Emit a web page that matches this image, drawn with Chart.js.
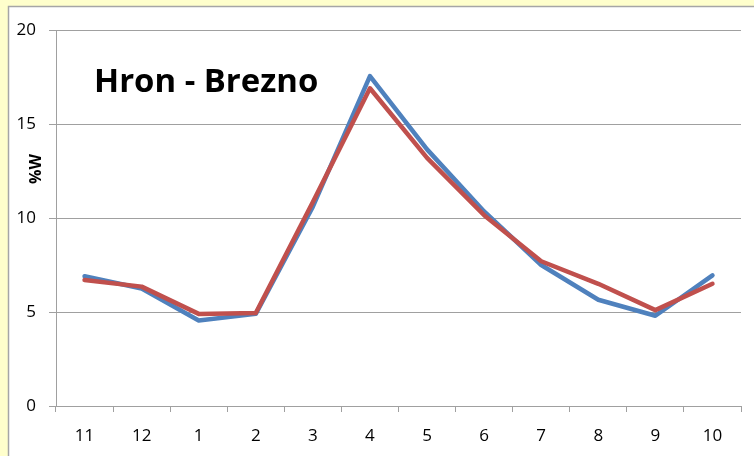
<!DOCTYPE html>
<html>
<head>
<meta charset="utf-8">
<script src="https://cdn.jsdelivr.net/npm/chart.js@4.4.1/dist/chart.umd.min.js"></script>
<style>
  html, body { margin: 0; padding: 0; background: #ffffcc; }
  canvas { display: block; }
</style>
</head>
<body>
<canvas id="chart" width="754" height="456"></canvas>
<script>
const months = ["11", "12", "1", "2", "3", "4", "5", "6", "7", "8", "9", "10"];
const seriesBlue = [6.9, 6.25, 4.55, 4.9, 10.6, 17.55, 13.65, 10.35, 7.5, 5.65, 4.8, 6.95];
const seriesRed = [6.7, 6.35, 4.9, 4.95, 10.85, 16.9, 13.2, 10.15, 7.7, 6.5, 5.1, 6.5];
const yTicks = [0, 5, 10, 15, 20];
const chartTitle = "Hron - Brezno";
const yTitle = "%W";

const gridGrey = "#a0a0a0";
const tickFont = { family: "Open Sans", size: 17 };

// yellow page + white chart box with grey left/top edge
const backdrop = {
    id: "backdrop",
    beforeDraw: (chart) => {
        const ctx = chart.ctx;
        ctx.save();
        ctx.fillStyle = "#ffffcc";
        ctx.fillRect(0, 0, chart.width, chart.height);
        ctx.fillStyle = "#ffffff";
        ctx.fillRect(9, 7, chart.width - 9, chart.height - 7);
        ctx.strokeStyle = "#a6a6a6";
        ctx.lineWidth = 1.5;
        ctx.beginPath();
        ctx.moveTo(8.5, chart.height);
        ctx.lineTo(8.5, 6.5);
        ctx.lineTo(chart.width, 6.5);
        ctx.stroke();
        ctx.restore();
    }
};

// chart title inside the plot and the rotated y-axis title
const labels = {
    id: "labels",
    afterDraw: (chart) => {
        const ctx = chart.ctx;
        ctx.save();
        ctx.fillStyle = "#000000";
        ctx.textAlign = "left";
        ctx.textBaseline = "alphabetic";
        let size = 30;
        ctx.font = "bold " + size + "px 'Open Sans'";
        size = size * 224 / ctx.measureText(chartTitle).width; // fit the width seen in the picture
        ctx.font = "bold " + size.toFixed(1) + "px 'Open Sans'";
        ctx.fillText(chartTitle, 94, 92);

        ctx.translate(36, 169);
        ctx.rotate(-Math.PI / 2);
        ctx.textAlign = "center";
        ctx.textBaseline = "middle";
        ctx.font = "bold 16px 'Open Sans'";
        ctx.fillText(yTitle, 0, 0);
        ctx.restore();
    }
};

new Chart(document.getElementById("chart"), {
    type: "line",
    data: {
        labels: months,
        datasets: [
            {
                data: seriesBlue,
                borderColor: "#4f81bd",
                borderWidth: 4.5,
                pointRadius: 0,
                tension: 0,
                borderCapStyle: "round",
                borderJoinStyle: "round",
                order: 2
            },
            {
                data: seriesRed,
                borderColor: "#c0504d",
                borderWidth: 4.5,
                pointRadius: 0,
                tension: 0,
                borderCapStyle: "round",
                borderJoinStyle: "round",
                order: 1
            }
        ]
    },
    options: {
        responsive: false,
        animation: false,
        devicePixelRatio: 1,
        layout: { padding: { left: 0, right: 13, top: 30, bottom: 0 } },
        plugins: {
            legend: { display: false },
            tooltip: { enabled: false }
        },
        scales: {
            x: {
                offset: true,
                grid: {
                    offset: true,
                    drawOnChartArea: false,
                    drawTicks: true,
                    tickLength: 6,
                    color: gridGrey
                },
                border: { color: gridGrey, width: 1 },
                ticks: {
                    color: "#000000",
                    padding: 14,
                    maxRotation: 0,
                    font: tickFont
                },
                afterFit: (scale) => { scale.height = 50; }
            },
            y: {
                min: 0,
                max: 20,
                afterBuildTicks: (scale) => { scale.ticks = yTicks.map(v => ({ value: v })); },
                grid: {
                    color: gridGrey,
                    tickLength: 7,
                    drawTicks: true
                },
                border: { color: gridGrey, width: 1 },
                ticks: {
                    color: "#000000",
                    padding: 13,
                    font: tickFont
                },
                afterFit: (scale) => { scale.width = 56; }
            }
        }
    },
    plugins: [backdrop, labels]
});
</script>
</body>
</html>
